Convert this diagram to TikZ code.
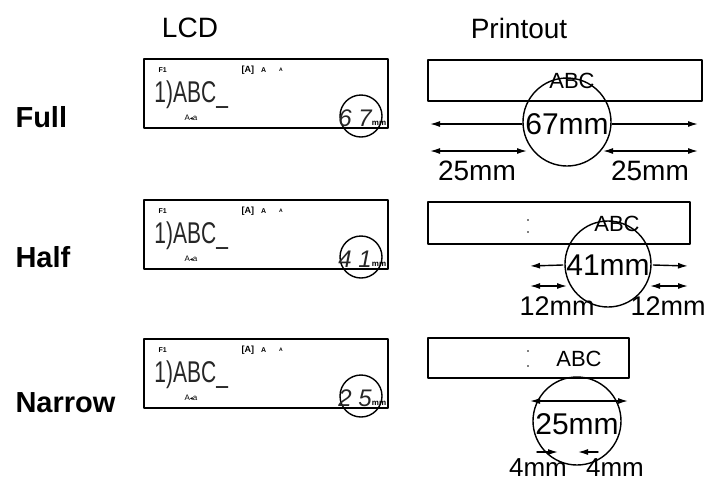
\documentclass[tikz,border=0pt]{standalone}
\usepackage{fontspec}
\setmainfont{Liberation Sans}
\newfontfamily\symfont{DejaVu Sans}
\usetikzlibrary{arrows.meta}
\newcommand\fsz[1]{\fontsize{#1}{#1}\selectfont}

\begin{document}
\begin{tikzpicture}[x=1pt,y=-1pt,line cap=round,line join=round,
   lcdbox/.style={line width=2pt},
   tapebox/.style={line width=1.8pt},
   ring/.style={circle,draw,line width=1.4pt,inner sep=0pt},
   dimboth/.style={line width=1.4pt,{Latex[length=10pt,width=6pt]}-{Latex[length=10pt,width=6pt]}},
   dimout/.style={line width=1.4pt,-{Latex[length=10pt,width=6pt]}},
   lcdtext/.style={font=\fsz{30},text=black!85,xscale=0.7,transform shape}]
\useasboundingbox (0,0) rectangle (714,483);
% column heads
\node[font=\fsz{28}] (headLCD) at (190,28) {LCD};
\node[font=\fsz{28}] (headPrint) at (519,28) {Printout};
% LCD screens, one per width setting
\foreach\row/\top/\lift/\dig in {Full/59/58/6 7,Half/200/57/4 1,Narrow/339/64/2 5}
{%
  \node[anchor=west,font=\bfseries\fsz{29}] (lbl\row) at (12,\top+\lift) {\row};
  \draw[lcdbox] (144,\top) rectangle (388,\top+69);
  \node[anchor=west,font=\bfseries\fsz{7}] (fk\row) at (155,\top+11) {F1};
  \node[anchor=west,font=\bfseries\fsz{9}] (sz\row) at (238,\top+11) {[A]};
  \node[anchor=west,font=\bfseries\fsz{7}] (sa\row) at (sz\row.east) {A};
  \node[anchor=west,font=\bfseries\fsz{5}] (sb\row) at ([xshift=6pt]sa\row.east) {A};
  \node[lcdtext,anchor=west] (txt\row) at (152,\top+36) {1)ABC\_};
  \node[anchor=west,font=\fsz{8}] (cs\row) at (181,\top+59) {A{\symfont\fsz{6}◂}a};
  \node[ring,minimum size=42pt] (lens\row) at (361,\top+57) {};
  \node[font=\itshape\fsz{24},text=black!85] (dg\row) at (355,\top+59) {\dig};
  \node[font=\bfseries\fsz{8}] (mm\row) at (379,\top+64) {mm};
}
% Full printout
\draw[tapebox] (428,60) rectangle (702,101);
\node[font=\fsz{22}] (abcFull) at (572,81) {ABC};
\node[ring,minimum size=88pt] (zoomFull) at (567,122) {};
\node[font=\fsz{30}] (lenFull) at (567,124) {67mm};
\coordinate (aFull) at (430,124);
\coordinate (bFull) at (698,124);
\draw[dimout] (lenFull.west) -- (aFull);
\draw[dimout] (lenFull.east) -- (bFull);
\coordinate (cFull) at (430,151);
\coordinate (dFull) at (527,151);
\coordinate (eFull) at (603,151);
\coordinate (fFull) at (698,151);
\draw[dimboth] (cFull) -- (dFull);
\draw[dimboth] (eFull) -- (fFull);
\node[font=\fsz{28}] (mlFull) at (477,171) {25mm};
\node[font=\fsz{28}] (mrFull) at (650,171) {25mm};
% Half printout
\draw[tapebox] (428,202) rectangle (690,244);
\fill (528,220) circle (0.9);
\fill (528,232) circle (0.9);
\node[font=\fsz{22}] (abcHalf) at (617,224) {ABC};
\node[ring,minimum size=86pt] (zoomHalf) at (608,264) {};
\node[font=\fsz{30}] (lenHalf) at (608,265) {41mm};
\coordinate (aHalf) at (530,266);
\coordinate (bHalf) at (688,266);
\draw[dimout] (lenHalf.west) -- (aHalf);
\draw[dimout] (lenHalf.east) -- (bHalf);
\coordinate (cHalf) at (530,286);
\coordinate (dHalf) at (567,286);
\coordinate (eHalf) at (650,286);
\coordinate (fHalf) at (688,286);
\draw[dimboth] (cHalf) -- (dHalf);
\draw[dimboth] (eHalf) -- (fHalf);
\node[font=\fsz{27}] (mlHalf) at (557,306) {12mm};
\node[font=\fsz{27}] (mrHalf) at (668,306) {12mm};
% Narrow printout
\draw[tapebox] (428,338) rectangle (629,378);
\fill (528,351) circle (0.9);
\fill (528,366) circle (0.9);
\node[font=\fsz{22}] (abcNarrow) at (579,359) {ABC};
\node[ring,minimum size=88pt] (zoomNarrow) at (577,421) {};
\node[font=\fsz{30}] (lenNarrow) at (577,424) {25mm};
\coordinate (aNarrow) at (530,401);
\coordinate (bNarrow) at (628,401);
\draw[dimboth] (aNarrow) -- (bNarrow);
\coordinate (cNarrow) at (537,452);
\coordinate (dNarrow) at (558,452);
\coordinate (eNarrow) at (598,452);
\coordinate (fNarrow) at (578,452);
\draw[dimout] (cNarrow) -- (dNarrow);
\draw[dimout] (eNarrow) -- (fNarrow);
\node[font=\fsz{26}] (mlNarrow) at (538,468) {4mm};
\node[font=\fsz{26}] (mrNarrow) at (615,468) {4mm};
\end{tikzpicture}
\end{document}
